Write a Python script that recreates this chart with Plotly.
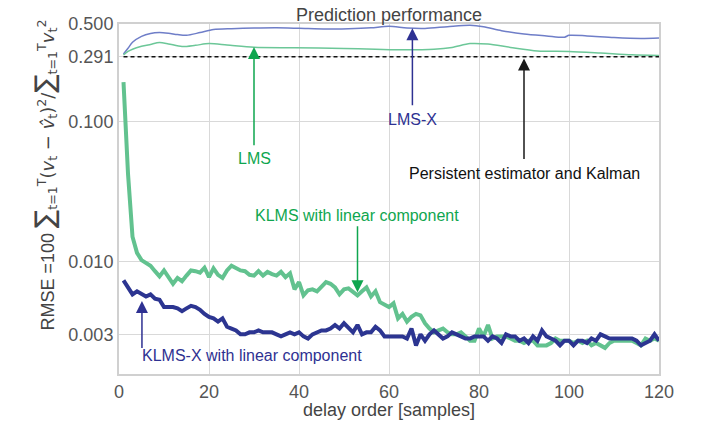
import numpy as np
import plotly.graph_objects as go

# ---------------- data ----------------
delay = list(range(1, 121))

klms_linear = [
    0.192, 0.0425, 0.0150, 0.0115, 0.0102, 0.0097, 0.0093, 0.0085, 0.0078, 0.0086,
    0.0078, 0.0069, 0.0076, 0.0072, 0.0079, 0.0086, 0.0085, 0.0083, 0.0090, 0.0077,
    0.0089, 0.0080, 0.0076, 0.0086, 0.0093, 0.0089, 0.0086, 0.0085, 0.0080, 0.0079,
    0.0085, 0.0079, 0.0084, 0.0081, 0.0079, 0.0084, 0.0077, 0.0082, 0.0063, 0.0071,
    0.0057, 0.0062, 0.0063, 0.0061, 0.0066, 0.0071, 0.0069, 0.0065, 0.0058, 0.0063,
    0.0064, 0.0060, 0.0057, 0.0061, 0.0065, 0.0056, 0.0061, 0.0051, 0.0049, 0.0047,
    0.0050, 0.0039, 0.0042, 0.0037, 0.0040, 0.0042, 0.0041, 0.0036, 0.0033, 0.0031,
    0.0032, 0.0033, 0.0031, 0.0030, 0.0030, 0.0031, 0.0029, 0.0027, 0.0027, 0.0033,
    0.0029, 0.0035, 0.0028, 0.0029, 0.0029, 0.0029, 0.0028, 0.0027, 0.0027, 0.0026,
    0.0027, 0.0027, 0.0025, 0.0025, 0.0025, 0.0026, 0.0028, 0.0027, 0.0027, 0.0027,
    0.0026, 0.0027, 0.0026, 0.0027, 0.0025, 0.0026, 0.0025, 0.0024, 0.0026, 0.0027,
    0.0027, 0.0027, 0.0027, 0.0027, 0.0026, 0.0025, 0.0028, 0.0027, 0.0028, 0.0027,
]

klmsx_linear = [
    0.0073, 0.0065, 0.0058, 0.0061, 0.0058, 0.0056, 0.0058, 0.0054, 0.0053, 0.0047,
    0.0047, 0.0047, 0.0046, 0.0044, 0.0046, 0.0048, 0.0047, 0.0045, 0.0042, 0.0040,
    0.0039, 0.0037, 0.0039, 0.0034, 0.0033, 0.0032, 0.0030, 0.0030, 0.0031, 0.0031,
    0.0032, 0.0031, 0.0031, 0.0031, 0.0030, 0.0029, 0.0030, 0.0031, 0.0030, 0.0031,
    0.0029, 0.0028, 0.0030, 0.0031, 0.0032, 0.0032, 0.0033, 0.0035, 0.0033, 0.0036,
    0.0033, 0.0031, 0.0035, 0.0030, 0.0031, 0.0031, 0.0034, 0.0032, 0.0029, 0.0029,
    0.0029, 0.0029, 0.0029, 0.0028, 0.0033, 0.0025, 0.0030, 0.0027, 0.0030, 0.0032,
    0.0030, 0.0028, 0.0029, 0.0031, 0.0030, 0.0029, 0.0028, 0.0028, 0.0029, 0.0029,
    0.0029, 0.0027, 0.0029, 0.0028, 0.0026, 0.0030, 0.0029, 0.0029, 0.0027, 0.0028,
    0.0026, 0.0029, 0.0027, 0.0032, 0.0029, 0.0028, 0.0027, 0.0025, 0.0027, 0.0027,
    0.0025, 0.0027, 0.0027, 0.0026, 0.0028, 0.0027, 0.0030, 0.0029, 0.0028, 0.0028,
    0.0028, 0.0028, 0.0028, 0.0028, 0.0027, 0.0025, 0.0026, 0.0027, 0.0030, 0.0027,
]

lmsx_delay = [1, 2, 3, 5, 7, 9, 11, 13, 15, 18, 21, 25, 30, 35, 40, 46, 51, 56, 60,
              64, 68, 73, 78, 81, 85, 90, 95, 99, 100, 104, 110, 116, 120]
lmsx = [0.305, 0.335, 0.370, 0.408, 0.428, 0.434, 0.429, 0.420, 0.415, 0.434, 0.456,
        0.463, 0.468, 0.470, 0.466, 0.460, 0.463, 0.470, 0.481, 0.468, 0.465, 0.478,
        0.489, 0.478, 0.448, 0.424, 0.411, 0.402, 0.415, 0.411, 0.400, 0.394, 0.397]

lms_delay = [1, 2, 3, 5, 7, 9, 11, 14, 17, 20, 24, 30, 39, 50, 57, 63, 70, 74, 78,
             82, 87, 93, 100, 107, 114, 120]
lms = [0.300, 0.318, 0.330, 0.346, 0.357, 0.368, 0.360, 0.345, 0.352, 0.362, 0.354,
       0.341, 0.338, 0.334, 0.330, 0.327, 0.330, 0.340, 0.362, 0.359, 0.340, 0.321,
       0.318, 0.310, 0.301, 0.298]

persistent_level = 0.291

ytick_vals = [0.003, 0.01, 0.1, 0.291, 0.5]
ytick_text = ["0.003", "0.010", "0.100", "0.291", "0.500"]
xtick_vals = [0, 20, 40, 60, 80, 100, 120]

# ---------------- styling ----------------
FONT = "Liberation Sans, Arial, Helvetica, sans-serif"
C_THICK_GREEN = "#62c28f"
C_THIN_GREEN = "#6cc798"
C_THICK_BLUE = "#2c3591"
C_THIN_BLUE = "#6f7ec8"
C_ANN_GREEN = "#0fa64f"
C_ANN_BLUE = "#2e3192"
GRID = "#d9d9d9"
FRAME = "#d0d0d0"
TXT = "#444444"

fig = go.Figure()

fig.add_trace(go.Scatter(x=lmsx_delay, y=lmsx, mode="lines", line=dict(color=C_THIN_BLUE, width=1.5, shape="spline", smoothing=0.8), showlegend=False))
fig.add_trace(go.Scatter(x=lms_delay, y=lms, mode="lines", line=dict(color=C_THIN_GREEN, width=1.5, shape="spline", smoothing=0.8), showlegend=False))
fig.add_trace(go.Scatter(x=[delay[0], delay[-1]], y=[persistent_level, persistent_level], mode="lines",
                         line=dict(color="#111111", width=1.5, dash="4px,3px"), showlegend=False))
fig.add_trace(go.Scatter(x=delay, y=klms_linear, mode="lines", line=dict(color=C_THICK_GREEN, width=4), showlegend=False))
fig.add_trace(go.Scatter(x=delay, y=klmsx_linear, mode="lines", line=dict(color=C_THICK_BLUE, width=4), showlegend=False))

L = np.log10

def arrow(x, y_head, y_tail, color):
    fig.add_annotation(x=x, y=L(y_head), ax=x, ay=L(y_tail), xref="x", yref="y", axref="x", ayref="y",
                       text="", showarrow=True, arrowhead=2, arrowsize=1.6, arrowwidth=1.5, arrowcolor=color,
                       standoff=0, startstandoff=0)

def label(x, y, text, color, xanchor="center"):
    fig.add_annotation(x=x, y=L(y), xref="x", yref="y", text=text, showarrow=False,
                       font=dict(family=FONT, size=16, color=color), xanchor=xanchor, yanchor="middle")

# LMS
arrow(30, 0.342, 0.066, C_ANN_GREEN)
label(30.2, 0.0543, "LMS", C_ANN_GREEN)
# LMS-X
arrow(65.2, 0.466, 0.128, C_ANN_BLUE)
label(65.3, 0.103, "LMS-X", C_ANN_BLUE)
# Persistent
arrow(90, 0.283, 0.0526, "#1a1a1a")
label(90, 0.0425, "Persistent estimator and Kalman", "#111111")
# KLMS lin
arrow(53, 0.0060, 0.0183, C_ANN_GREEN)
label(52.9, 0.0212, "KLMS with linear component", C_ANN_GREEN)
# KLMS-X lin
arrow(5.1, 0.0052, 0.00234, C_ANN_BLUE)
label(4.7, 0.0021, "KLMS-X with linear component", C_ANN_BLUE, xanchor="left")

# title
fig.add_annotation(x=0.5, y=1, xref="paper", yref="paper", text="Prediction performance", showarrow=False,
                   font=dict(family=FONT, size=18, color=TXT), xanchor="center", yanchor="bottom", yshift=-3)
# x title
fig.add_annotation(x=0.5, y=(374 - 410) / 350, xref="paper", yref="paper", text="delay order [samples]",
                   showarrow=False, font=dict(family=FONT, size=18, color=TXT), xanchor="center", yanchor="middle")
# y title
M = "<span style='font-family:DejaVu Sans'>"
sig = "<span style='font-family:DejaVu Sans;font-size:27px'>∑</span>"
ytitle = ("RMSE =100 " + sig + M + "<sub>t=1</sub><sup>T</sup>(<i>v</i><sub>t</sub> − <i>v̂</i><sub>t</sub>)<sup>2</sup>/</span>"
          + sig + M + "<sub>t=1</sub><sup>T</sup><i>v</i><sub>t</sub><sup>2</sup></span>")
fig.add_annotation(x=(44 - 119) / 540, y=(374 - 333) / 350, xref="paper", yref="paper", text=ytitle,
                   showarrow=False, textangle=-90, font=dict(family=FONT, size=18, color=TXT),
                   xanchor="center", yanchor="bottom")

fig.update_xaxes(range=[0, 120], tickvals=xtick_vals, showgrid=True, gridcolor=GRID, gridwidth=1.3,
                 showline=True, mirror=True, linecolor=FRAME, linewidth=2, zeroline=False, ticks="",
                 tickfont=dict(family=FONT, size=18, color="#555555"))
fig.update_yaxes(type="log", range=[L(0.00156), L(0.5)], tickvals=ytick_vals, ticktext=ytick_text,
                 showgrid=True, gridcolor=GRID, gridwidth=1.3, showline=True, mirror=True, linecolor=FRAME,
                 linewidth=2, zeroline=False, ticks="", tickfont=dict(family=FONT, size=18, color="#555555"))

fig.update_layout(width=702, height=421, margin=dict(l=119, r=43, t=24, b=47),
                  plot_bgcolor="white", paper_bgcolor="white", showlegend=False)

fig.write_html("out.html")
